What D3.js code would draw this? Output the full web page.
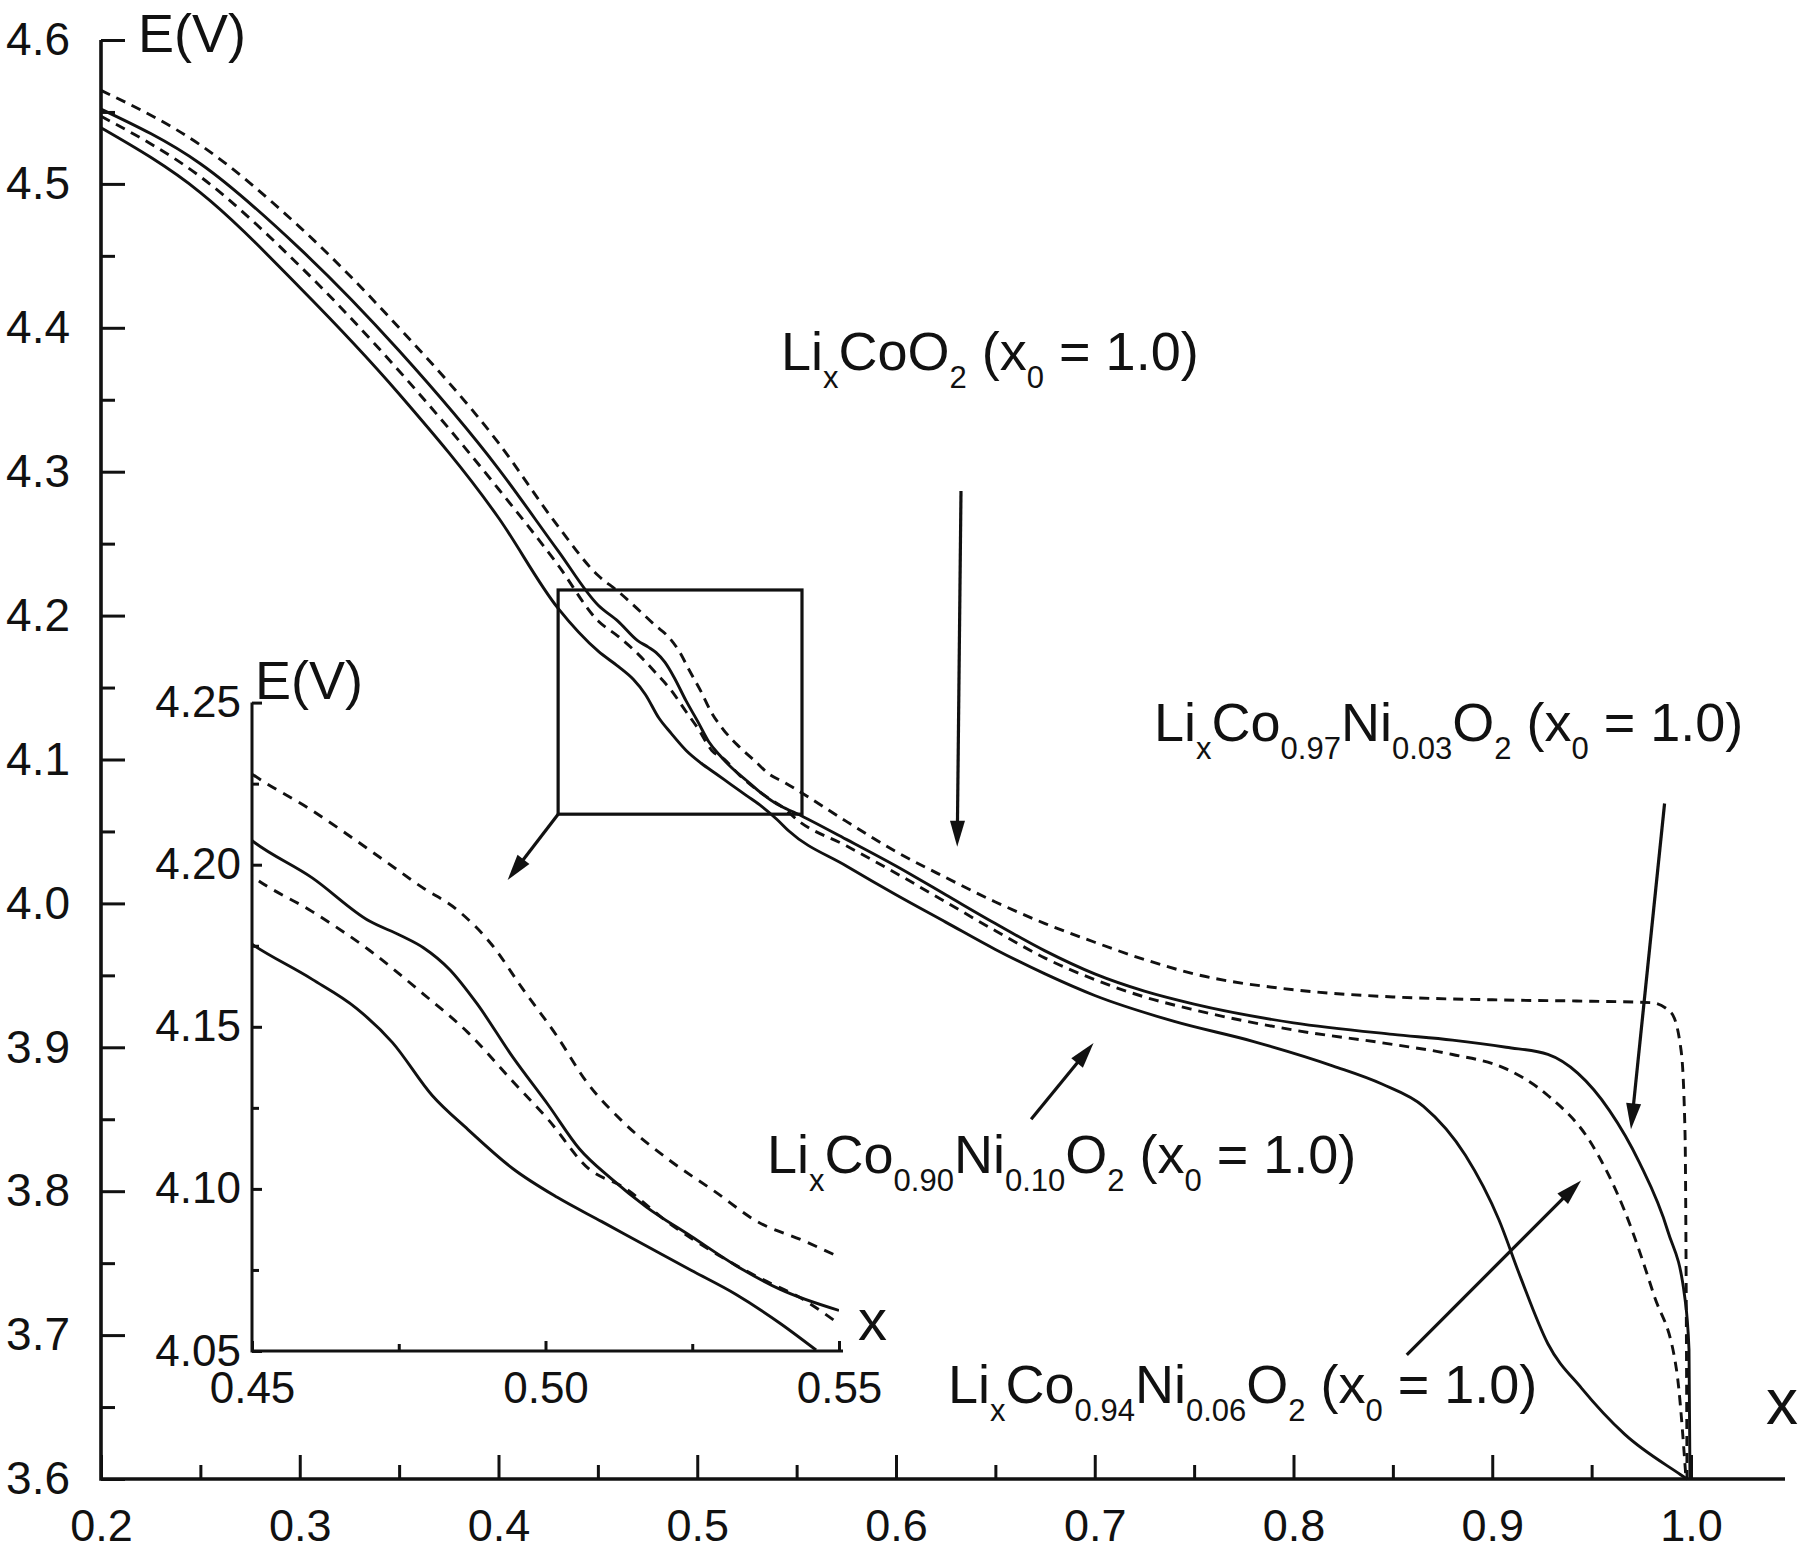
<!DOCTYPE html>
<html><head><meta charset="utf-8">
<script src="https://cdn.jsdelivr.net/npm/d3@7"></script>
<style>
html,body{margin:0;padding:0;background:#fff;}
svg{display:block;background:#fff;}
text{font-family:"Liberation Sans",Arial,Helvetica,sans-serif;fill:#111;white-space:pre;}
</style></head><body>
<svg id="chart" width="1800" height="1551"></svg>
<script>
// ---------- data ----------
const lcoX = [0.20,0.25,0.30,0.35,0.40,0.43,0.45,0.46,0.472,0.479,0.485,0.491,0.496,0.502,0.507,0.513,0.521,0.529,0.536,0.544,0.550,0.575,0.60,0.625,0.65,0.675,0.70,0.725,0.75,0.80,0.85,0.90,0.95,0.98,0.990,0.995,0.997,0.998];
const lcoE = [4.565,4.527,4.470,4.400,4.320,4.262,4.228,4.217,4.202,4.193,4.186,4.175,4.162,4.147,4.133,4.121,4.109,4.099,4.090,4.084,4.079,4.057,4.036,4.018,4.001,3.986,3.973,3.961,3.951,3.940,3.935,3.933,3.932,3.931,3.924,3.898,3.840,3.600];

const ni03X = [0.20,0.25,0.30,0.35,0.40,0.43,0.4503,0.4602,0.470,0.4754,0.4792,0.4837,0.4883,0.4944,0.5005,0.5058,0.5111,0.5172,0.5248,0.5324,0.540,0.550,0.575,0.60,0.625,0.65,0.675,0.70,0.725,0.75,0.80,0.85,0.88,0.907,0.928,0.943,0.959,0.974,0.9884,0.9967,0.999,0.9995];
const ni03E = [4.552,4.514,4.455,4.384,4.302,4.245,4.207,4.196,4.1826,4.1781,4.1744,4.1676,4.1572,4.1407,4.1258,4.1123,4.1033,4.0944,4.0854,4.0764,4.069,4.0625,4.0445,4.026,4.006,3.986,3.967,3.951,3.939,3.930,3.917,3.909,3.905,3.900,3.895,3.882,3.856,3.820,3.772,3.728,3.690,3.600];

const ni06X = [0.20,0.25,0.30,0.35,0.40,0.43,0.4503,0.4602,0.470,0.4792,0.4868,0.4944,0.5005,0.5073,0.5134,0.521,0.5286,0.5362,0.5438,0.5499,0.575,0.60,0.625,0.65,0.675,0.70,0.725,0.75,0.80,0.85,0.88,0.907,0.928,0.949,0.9667,0.9813,0.9927,0.9975];
const ni06E = [4.547,4.505,4.443,4.370,4.288,4.235,4.1961,4.1856,4.1736,4.1601,4.1482,4.1332,4.1213,4.1063,4.1004,4.0895,4.0805,4.0728,4.066,4.0585,4.040,4.021,4.001,3.981,3.962,3.947,3.935,3.926,3.912,3.902,3.895,3.885,3.8665,3.835,3.786,3.728,3.676,3.600];

const ni10X = [0.20,0.25,0.30,0.35,0.40,0.43,0.4503,0.4602,0.4678,0.4739,0.4807,0.4868,0.4944,0.502,0.5096,0.5172,0.5248,0.5324,0.540,0.5461,0.575,0.60,0.625,0.65,0.675,0.70,0.74,0.78,0.82,0.8445,0.8654,0.8865,0.9034,0.914,0.928,0.945,0.9667,0.9948,0.998];
const ni10E = [4.539,4.494,4.428,4.354,4.268,4.205,4.1751,4.1647,4.1557,4.1452,4.1288,4.1183,4.1063,4.0974,4.0899,4.0824,4.0749,4.0675,4.0585,4.0503,4.026,4.006,3.987,3.968,3.951,3.936,3.918,3.904,3.887,3.8745,3.859,3.825,3.780,3.741,3.694,3.663,3.631,3.603,3.600];

const seriesNames = ["LiCoO2","LiCo0.97Ni0.03O2","LiCo0.94Ni0.06O2","LiCo0.90Ni0.10O2"];
const seriesDashed = [true,false,true,false];

const mainXTicks = [0.2,0.3,0.4,0.5,0.6,0.7,0.8,0.9,1.0];
const mainXMinor = [0.25,0.35,0.45,0.55,0.65,0.75,0.85,0.95];
const mainYTicks = [3.6,3.7,3.8,3.9,4.0,4.1,4.2,4.3,4.4,4.5,4.6];
const mainYMinor = [3.65,3.75,3.85,3.95,4.05,4.15,4.25,4.35,4.45,4.55];
const insetXTicks = [0.45,0.50,0.55];
const insetXMinor = [0.475,0.525];
const insetYTicks = [4.05,4.10,4.15,4.20,4.25];
const insetYMinor = [4.075,4.125,4.175,4.225];

// zoom box (data units) and annotation arrows (data units: [x1,E1,x2,E2])
const zoomBoxX = [0.43,0.5527];
const zoomBoxE = [4.062,4.2178];
const arrowLiCoO2 = [0.6327,4.2866,0.6308,4.0394];
const arrowNi03 = [0.9867,4.0694,0.9698,3.843];
const arrowNi10 = [0.668,3.850,0.6994,3.903];
const arrowNi06 = [0.857,3.6863,0.9447,3.8075];
const arrowBox = [0.43,4.062,0.4046,4.0163];

// ---------- drawing ----------
const svg = d3.select("#chart");
const x = d3.scaleLinear().domain([0.2,1.0]).range([101,1691]);
const y = d3.scaleLinear().domain([3.6,4.6]).range([1479,40]);
const xi = d3.scaleLinear().domain([0.45,0.55]).range([252,839]);
const yi = d3.scaleLinear().domain([4.05,4.25]).range([1351,702.6]);

const series = [[lcoX,lcoE],[ni03X,ni03E],[ni06X,ni06E],[ni10X,ni10E]].map((s,i)=>({
  name: seriesNames[i], dashed: seriesDashed[i],
  pts: s[0].map((v,j)=>[v,s[1][j]])
}));

function styleAxis(g, fs){
  g.select(".domain").remove();
  g.selectAll(".tick line").attr("stroke","#111").attr("stroke-width",3);
  g.selectAll(".tick text").attr("font-size",fs).attr("fill","#111")
    .style("font-family","'Liberation Sans',Arial,sans-serif");
}

// main axes
const gx = svg.append("g").attr("transform",`translate(0,${y(3.6)})`);
gx.call(d3.axisBottom(x).tickValues(mainXTicks).tickFormat(d3.format(".1f")).tickSize(-24).tickSizeOuter(0).tickPadding(30));
styleAxis(gx,45);
const gxm = svg.append("g").attr("transform",`translate(0,${y(3.6)})`);
gxm.call(d3.axisBottom(x).tickValues(mainXMinor).tickFormat("").tickSize(-14).tickSizeOuter(0));
styleAxis(gxm,45);
const gy = svg.append("g").attr("transform",`translate(${x(0.2)},0)`);
gy.call(d3.axisLeft(y).tickValues(mainYTicks).tickFormat(d3.format(".1f")).tickSize(-24).tickSizeOuter(0).tickPadding(31));
styleAxis(gy,46);
const gym = svg.append("g").attr("transform",`translate(${x(0.2)},0)`);
gym.call(d3.axisLeft(y).tickValues(mainYMinor).tickFormat("").tickSize(-14).tickSizeOuter(0));
styleAxis(gym,46);
svg.append("line").attr("x1",x(0.2)).attr("x2",x(1.0)+94).attr("y1",y(3.6)).attr("y2",y(3.6))
  .attr("stroke","#111").attr("stroke-width",3.6);
svg.append("line").attr("x1",x(0.2)).attr("x2",x(0.2)).attr("y1",y(3.6)+1.8).attr("y2",y(4.6))
  .attr("stroke","#111").attr("stroke-width",3.6);

svg.append("text").attr("x",138).attr("y",52).attr("font-size",54).text("E(V)");
svg.append("text").attr("x",1766).attr("y",1424).attr("font-size",64).text("x");

// main curves
const lineMain = d3.line().x(d=>x(d[0])).y(d=>y(d[1])).curve(d3.curveMonotoneX);
svg.append("g").selectAll("path").data(series).join("path")
  .attr("d",d=>lineMain(d.pts)).attr("fill","none").attr("stroke","#111")
  .attr("stroke-width",2.9).attr("stroke-dasharray",d=>d.dashed?"10,7":null);

// zoom box
svg.append("rect").attr("x",x(zoomBoxX[0])).attr("y",y(zoomBoxE[1]))
  .attr("width",x(zoomBoxX[1])-x(zoomBoxX[0])).attr("height",y(zoomBoxE[0])-y(zoomBoxE[1]))
  .attr("fill","none").attr("stroke","#111").attr("stroke-width",3.2);

function arrow(a, sx, sy){
  const x1=sx(a[0]), y1=sy(a[1]), x2=sx(a[2]), y2=sy(a[3]);
  const L=Math.hypot(x2-x1,y2-y1), ux=(x2-x1)/L, uy=(y2-y1)/L;
  const hl=26, hw=7.5;
  const bx=x2-ux*hl, by=y2-uy*hl;
  svg.append("line").attr("x1",x1).attr("y1",y1).attr("x2",bx+ux*2).attr("y2",by+uy*2)
    .attr("stroke","#111").attr("stroke-width",3.2);
  svg.append("path").attr("d",`M${x2},${y2}L${bx-uy*hw},${by+ux*hw}L${bx+uy*hw},${by-ux*hw}Z`)
    .attr("fill","#111");
}
[arrowLiCoO2,arrowNi03,arrowNi10,arrowNi06,arrowBox].forEach(a=>arrow(a,x,y));

// labels with subscripts
function rich(px, py, parts, size, subSize, drop){
  const t = svg.append("text").attr("x",px).attr("y",py).attr("font-size",size);
  let cur=0;
  parts.forEach(([s,sub])=>{
    const target = sub?drop:0;
    t.append("tspan").attr("dy",target-cur).attr("font-size",sub?subSize:size).text(s);
    cur=target;
  });
}
const LS=54, SS=31, DR=18;
rich(781,370,[["Li",0],["x",1],["CoO",0],["2",1],[" (x",0],["0",1],[" = 1.0)",0]],LS,SS,DR);
rich(1154,741,[["Li",0],["x",1],["Co",0],["0.97",1],["Ni",0],["0.03",1],["O",0],["2",1],[" (x",0],["0",1],[" = 1.0)",0]],LS,SS,DR);
rich(767,1173,[["Li",0],["x",1],["Co",0],["0.90",1],["Ni",0],["0.10",1],["O",0],["2",1],[" (x",0],["0",1],[" = 1.0)",0]],LS,SS,DR);
rich(948,1403,[["Li",0],["x",1],["Co",0],["0.94",1],["Ni",0],["0.06",1],["O",0],["2",1],[" (x",0],["0",1],[" = 1.0)",0]],LS,SS,DR);

// ---------- inset ----------
const gix = svg.append("g").attr("transform",`translate(0,${yi(4.05)})`);
gix.call(d3.axisBottom(xi).tickValues(insetXTicks).tickFormat(d3.format(".2f")).tickSize(-10).tickSizeOuter(0).tickPadding(21));
styleAxis(gix,44);
const gixm = svg.append("g").attr("transform",`translate(0,${yi(4.05)})`);
gixm.call(d3.axisBottom(xi).tickValues(insetXMinor).tickFormat("").tickSize(-7).tickSizeOuter(0));
styleAxis(gixm,44);
const giy = svg.append("g").attr("transform",`translate(${xi(0.45)},0)`);
giy.call(d3.axisLeft(yi).tickValues(insetYTicks).tickFormat(d3.format(".2f")).tickSize(-10).tickSizeOuter(0).tickPadding(11));
styleAxis(giy,44);
const giym = svg.append("g").attr("transform",`translate(${xi(0.45)},0)`);
giym.call(d3.axisLeft(yi).tickValues(insetYMinor).tickFormat("").tickSize(-7).tickSizeOuter(0));
styleAxis(giym,44);
svg.append("line").attr("x1",xi(0.45)).attr("x2",xi(0.55)+4).attr("y1",yi(4.05)).attr("y2",yi(4.05))
  .attr("stroke","#111").attr("stroke-width",3);
svg.append("line").attr("x1",xi(0.45)).attr("x2",xi(0.45)).attr("y1",yi(4.05)+1.5).attr("y2",yi(4.25))
  .attr("stroke","#111").attr("stroke-width",3);
svg.append("text").attr("x",255).attr("y",699).attr("font-size",54).text("E(V)");
svg.append("text").attr("x",858).attr("y",1340).attr("font-size",58).text("x");

svg.append("clipPath").attr("id","insetClip").append("rect")
  .attr("x",xi(0.45)).attr("y",yi(4.25)).attr("width",xi(0.55)-xi(0.45)).attr("height",yi(4.05)-yi(4.25));
const lineInset = d3.line().x(d=>xi(d[0])).y(d=>yi(d[1])).curve(d3.curveMonotoneX);
svg.append("g").attr("clip-path","url(#insetClip)").selectAll("path")
  .data(series.map(s=>({...s, pts:s.pts.filter(p=>p[0]>=0.43&&p[0]<=0.56)})))
  .join("path").attr("d",d=>lineInset(d.pts)).attr("fill","none").attr("stroke","#111")
  .attr("stroke-width",2.9).attr("stroke-dasharray",d=>d.dashed?"10,8":null);
</script>
</body></html>
